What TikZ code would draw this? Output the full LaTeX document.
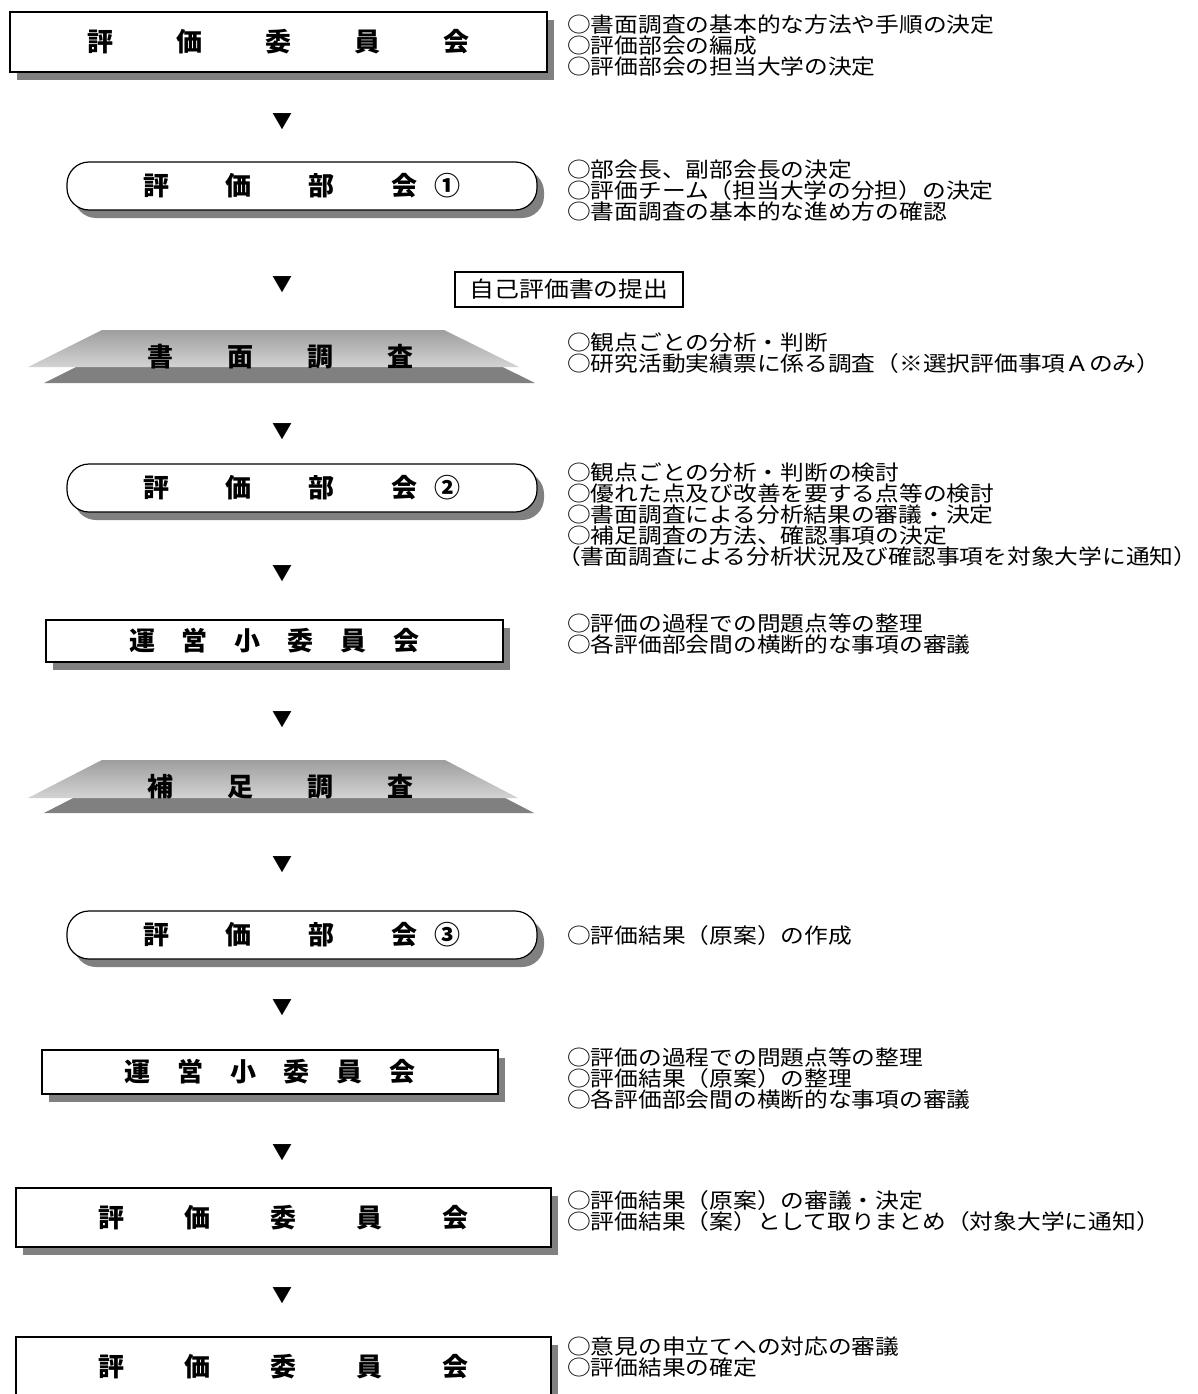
\documentclass[tikz,border=0pt]{standalone}
\usepackage{fontspec}
\newfontfamily\jpsans{Noto Sans CJK JP}
\newfontfamily\jpdesc{Noto Sans CJK JP}[FakeStretch=1.13]
\usetikzlibrary{shadows}
\begin{document}
\begin{tikzpicture}[x=1pt,y=-1pt,
  shd/.style={drop shadow={shadow xshift=7pt,shadow yshift=-8pt,fill=black!50,opacity=1}},
  sqbox/.style={draw=black,line width=1.2pt,fill=white,inner sep=0,shd,
     font=\jpsans\bfseries\fontsize{26}{26}\selectfont},
  rdbox/.style={sqbox,rounded corners=22pt},
  ttlnode/.style={inner sep=0,font=\jpsans\bfseries\fontsize{26}{26}\selectfont},
  desc/.style={inner sep=0,anchor=north west,align=left,
     font=\jpdesc\fontsize{21}{21}\selectfont},
  tri/.style={inner sep=0,font=\jpsans\fontsize{20}{20}\selectfont},
  lightgrad/.style={top color=black!38,bottom color=black!17,draw=none},
  darklayer/.style={fill=black!50,draw=none}
]
\clip (0,0) rectangle (1197,1394);
\fill[white] (0,0) rectangle (1197,1394);

% --- boxes
\node[sqbox,minimum width=537pt,minimum height=60pt] (iin1) at (278.5,42)
  {評\hspace{63pt}価\hspace{63pt}委\hspace{63pt}員\hspace{63pt}会};
\node[rdbox,minimum width=470pt,minimum height=48pt] (bu1) at (302,186)
  {評\hspace{57pt}価\hspace{57pt}部\hspace{57pt}会\hspace{17pt}①};
\node[rdbox,minimum width=470pt,minimum height=48pt] (bu2) at (302,488)
  {評\hspace{57pt}価\hspace{57pt}部\hspace{57pt}会\hspace{17pt}②};
\node[sqbox,minimum width=457pt,minimum height=42pt] (un1) at (274.5,641)
  {運\hspace{27pt}営\hspace{27pt}小\hspace{27pt}委\hspace{27pt}員\hspace{27pt}会};
\node[rdbox,minimum width=470pt,minimum height=48pt] (bu3) at (302,935)
  {評\hspace{57pt}価\hspace{57pt}部\hspace{57pt}会\hspace{17pt}③};
\node[sqbox,minimum width=456pt,minimum height=44pt] (un2) at (270,1072)
  {運\hspace{27pt}営\hspace{27pt}小\hspace{27pt}委\hspace{27pt}員\hspace{27pt}会};
\node[sqbox,minimum width=535pt,minimum height=59pt] (iin2) at (283.5,1217.5)
  {評\hspace{60pt}価\hspace{60pt}委\hspace{60pt}員\hspace{60pt}会};
\node[sqbox,minimum width=535pt,minimum height=59pt] (iin3) at (283.5,1366.5)
  {評\hspace{60pt}価\hspace{60pt}委\hspace{60pt}員\hspace{60pt}会};

% --- trapezoids
\fill[darklayer] (118,346) -- (460,346) -- (535,383) -- (44,383) -- cycle;
\shade[lightgrad] (102,330) -- (444,330) -- (519,367) -- (28,367) -- cycle;
\node[ttlnode] (shomen) at (280.5,357)
  {書\hspace{54pt}面\hspace{54pt}調\hspace{54pt}査};
\fill[darklayer] (118,775) -- (461,775) -- (534,813) -- (44,813) -- cycle;
\shade[lightgrad] (102,760) -- (445,760) -- (518,798) -- (28,798) -- cycle;
\node[ttlnode] (hosoku) at (280.5,787)
  {補\hspace{54pt}足\hspace{54pt}調\hspace{54pt}査};

% --- submission box
\node[draw=black,line width=1.6pt,minimum width=228pt,minimum height=35pt,inner sep=0,
  font=\jpdesc\fontsize{22}{22}\selectfont] (jiko) at (569,289.5) {自己評価書の提出};

% --- arrows
\foreach \yy/\nm in {122/a1,285/a2,432/a3,574/a4,720/a5,865/a6,1008/a7,1153/a8,1296/a9}
  \node[tri] (\nm) at (282,\yy) {▼};

% --- descriptions
\node[desc] (d1) at (567,15) {○書面調査の基本的な方法や手順の決定\\○評価部会の編成\\○評価部会の担当大学の決定};
\node[desc] (d2) at (567,160) {○部会長、副部会長の決定\\○評価チーム（担当大学の分担）の決定\\○書面調査の基本的な進め方の確認};
\node[desc] (d3) at (567,333) {○観点ごとの分析・判断\\○研究活動実績票に係る調査（※選択評価事項Ａのみ）};
\node[desc] (d4) at (567,463) {○観点ごとの分析・判断の検討\\○優れた点及び改善を要する点等の検討\\○書面調査による分析結果の審議・決定\\○補足調査の方法、確認事項の決定\\\hspace*{-10pt}（書面調査による分析状況及び確認事項を対象大学に通知）};
\node[desc] (d5) at (567,614) {○評価の過程での問題点等の整理\\○各評価部会間の横断的な事項の審議};
\node[desc] (d6) at (567,925) {○評価結果（原案）の作成};
\node[desc] (d7) at (567,1048) {○評価の過程での問題点等の整理\\○評価結果（原案）の整理\\○各評価部会間の横断的な事項の審議};
\node[desc] (d8) at (567,1190) {○評価結果（原案）の審議・決定\\○評価結果（案）として取りまとめ（対象大学に通知）};
\node[desc] (d9) at (567,1337) {○意見の申立てへの対応の審議\\○評価結果の確定};
\end{tikzpicture}
\end{document}
